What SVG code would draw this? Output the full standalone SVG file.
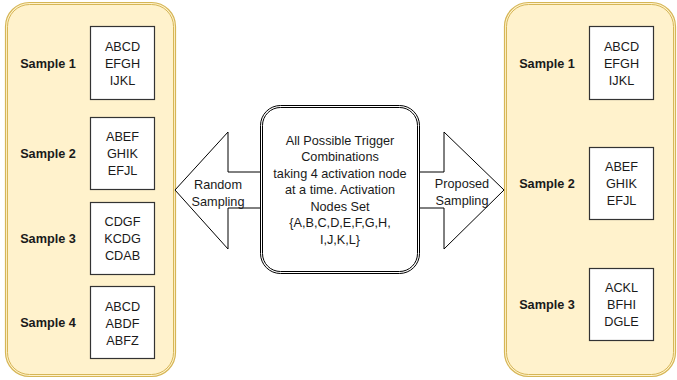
<svg xmlns="http://www.w3.org/2000/svg" width="677" height="380" viewBox="0 0 677 380">
<style>
.panel{fill:#fff2cc;stroke:#d6b656;stroke-width:1.2}
.paneli{fill:none;stroke:#d6b656;stroke-width:1}
.box{fill:#ffffff;stroke:#333333;stroke-width:1.2}
.arrow{fill:#ffffff;stroke:#000000;stroke-width:1}
.cen{fill:#ffffff;stroke:#000000;stroke-width:1}
text{font-family:"Liberation Sans",Arial,sans-serif;font-size:12.7px;fill:#1a1a1a;text-anchor:middle}
.lbl{font-weight:bold}
</style>
<rect width="677" height="380" fill="#ffffff"/>
<g id="left-panel">
<rect class="panel" x="5.5" y="2.5" width="170" height="374" rx="24"/>
<rect class="paneli" x="7.5" y="4.5" width="166" height="370" rx="22"/>
</g>
<g id="right-panel">
<rect class="panel" x="504.5" y="2.5" width="171" height="374" rx="24"/>
<rect class="paneli" x="506.5" y="4.5" width="167" height="370" rx="22"/>
</g>
<g id="connectors">
<g id="random-sampling">
<polygon class="arrow" points="262,172 228,172 228,132 175,190 228,249 228,208 262,208"/>
<text x="218" y="188.5">Random</text>
<text x="218" y="206">Sampling</text>
</g>
<g id="proposed-sampling">
<polygon class="arrow" points="417,172 444,172 444,132 504,190 444,249 444,208 417,208"/>
<text x="462" y="187.5">Proposed</text>
<text x="462" y="204.5">Sampling</text>
</g>
</g>
<g id="center-node">
<rect class="cen" x="260.5" y="105.5" width="159" height="168" rx="20"/>
<rect class="cen" x="262.5" y="107.5" width="155" height="164" rx="18"/>
<text x="340" y="144.5">All Possible Trigger</text>
<text x="340" y="161">Combinations</text>
<text x="340" y="177.5">taking 4 activation node</text>
<text x="340" y="194">at a time. Activation</text>
<text x="340" y="210.5">Nodes Set</text>
<text x="340" y="227">{A,B,C,D,E,F,G,H,</text>
<text x="340" y="243.5">I,J,K,L}</text>
</g>
<g id="left-sample-1">
<text class="lbl" x="48" y="67.5">Sample 1</text>
<rect class="box" x="90.5" y="26.5" width="64" height="73"/>
<text x="122.5" y="50.5">ABCD</text>
<text x="122.5" y="67.5">EFGH</text>
<text x="122.5" y="84.5">IJKL</text>
</g>
<g id="left-sample-2">
<text class="lbl" x="48" y="158">Sample 2</text>
<rect class="box" x="90.5" y="117.5" width="64" height="72"/>
<text x="122.5" y="141">ABEF</text>
<text x="122.5" y="158">GHIK</text>
<text x="122.5" y="175">EFJL</text>
</g>
<g id="left-sample-3">
<text class="lbl" x="48" y="242.5">Sample 3</text>
<rect class="box" x="90.5" y="202.5" width="64" height="72"/>
<text x="122.5" y="225.5">CDGF</text>
<text x="122.5" y="242.5">KCDG</text>
<text x="122.5" y="259.5">CDAB</text>
</g>
<g id="left-sample-4">
<text class="lbl" x="48" y="326.5">Sample 4</text>
<rect class="box" x="90.5" y="286.5" width="64" height="72"/>
<text x="122.5" y="310.5">ABCD</text>
<text x="122.5" y="327.5">ABDF</text>
<text x="122.5" y="344.5">ABFZ</text>
</g>
<g id="right-sample-1">
<text class="lbl" x="547" y="67.5">Sample 1</text>
<rect class="box" x="589.5" y="26.5" width="64" height="73"/>
<text x="621.5" y="50.5">ABCD</text>
<text x="621.5" y="67.5">EFGH</text>
<text x="621.5" y="84.5">IJKL</text>
</g>
<g id="right-sample-2">
<text class="lbl" x="547" y="187.5">Sample 2</text>
<rect class="box" x="589.5" y="147.5" width="64" height="72"/>
<text x="621.5" y="170.5">ABEF</text>
<text x="621.5" y="187.5">GHIK</text>
<text x="621.5" y="204.5">EFJL</text>
</g>
<g id="right-sample-3">
<text class="lbl" x="547" y="308.5">Sample 3</text>
<rect class="box" x="589.5" y="268.5" width="64" height="72"/>
<text x="621.5" y="291.5">ACKL</text>
<text x="621.5" y="308.5">BFHI</text>
<text x="621.5" y="325.5">DGLE</text>
</g>
</svg>
